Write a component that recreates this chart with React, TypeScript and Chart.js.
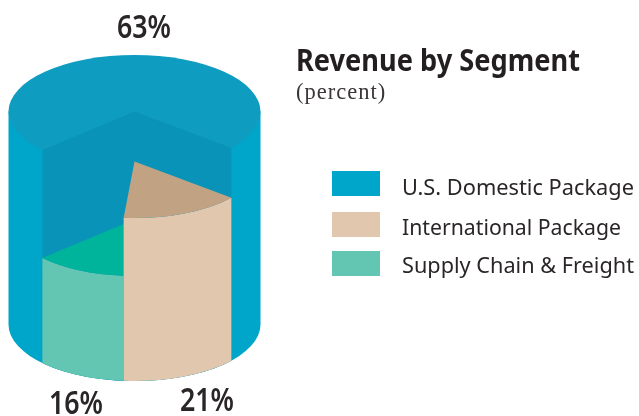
import React, { useEffect, useRef } from "react";
import { Chart, registerables } from "chart.js";

Chart.register(...registerables);

const categories = ["U.S. Domestic Package", "International Package", "Supply Chain & Freight"];
const values = [63, 21, 16];
const sideColors = ["#00A6CA", "#E1C7AE", "#63C6B3"];
const topColors = ["#0E9DC1", "#C1A383", "#00B49C"];
const innerWallColor = "#0A93B8";
const title = "Revenue by Segment";
const subtitle = "(percent)";

// drawing style of the cylinder
const TILT = 56.5 / 126;
const CYL_HEIGHT = 213;
const DROPS = [0, 50, 108];
const FRONT_SQUEEZE = 0.73;
const FRONT_MID = (88.0 * Math.PI) / 180;
const TEXT_FONT = '"Noto Sans"';
const INK = "#2a2627";

const cylinderPlugin = {
  id: "cylinder",
  beforeDatasetsDraw(chart: any) {
    const { ctx } = chart;
    const arcs = chart.getDatasetMeta(0).data;
    const cx = arcs[0].x;
    const rx = arcs[0].outerRadius;
    const ry = rx * TILT;
    const topY = arcs[0].y - CYL_HEIGHT / 2;
    const botY = arcs[0].y + CYL_HEIGHT / 2;
    const norm = (a: number) => {
      let v = a;
      while (v < -Math.PI / 2) v += Math.PI * 2;
      while (v > Math.PI * 1.5) v -= Math.PI * 2;
      return v;
    };
    const show = (a: number) => FRONT_MID + (norm(a) - FRONT_MID) * FRONT_SQUEEZE;
    const a0 = show(arcs[1].startAngle);
    const a1 = show(arcs[1].endAngle);
    const a2 = show(arcs[2].endAngle);

    ctx.save();
    // outer body
    ctx.beginPath();
    ctx.moveTo(cx - rx, topY);
    ctx.lineTo(cx - rx, botY);
    ctx.ellipse(cx, botY, rx, ry, 0, Math.PI, 0, true);
    ctx.lineTo(cx + rx, topY);
    ctx.closePath();
    ctx.fillStyle = sideColors[0];
    ctx.fill();
    // top face
    ctx.beginPath();
    ctx.ellipse(cx, topY, rx, ry, 0, 0, Math.PI * 2);
    ctx.fillStyle = topColors[0];
    ctx.fill();
    // inside walls of the cut-out
    ctx.beginPath();
    ctx.moveTo(cx, topY);
    ctx.lineTo(cx + rx * Math.cos(a0), topY + ry * Math.sin(a0));
    ctx.lineTo(cx + rx * Math.cos(a0), botY + ry * Math.sin(a0));
    ctx.ellipse(cx, botY, rx, ry, 0, a0, a2);
    ctx.lineTo(cx + rx * Math.cos(a2), topY + ry * Math.sin(a2));
    ctx.closePath();
    ctx.fillStyle = innerWallColor;
    ctx.fill();

    const slice = (i: number, s: number, e: number) => {
      const y = topY + DROPS[i];
      ctx.beginPath();
      ctx.ellipse(cx, y, rx, ry, 0, s, e);
      ctx.ellipse(cx, botY, rx, ry, 0, e, s, true);
      ctx.closePath();
      ctx.fillStyle = sideColors[i];
      ctx.fill();
      ctx.beginPath();
      ctx.moveTo(cx, y);
      ctx.ellipse(cx, y, rx, ry, 0, s, e);
      ctx.closePath();
      ctx.fillStyle = topColors[i];
      ctx.fill();
    };
    slice(2, a1, a2);
    slice(1, a0, a1);

    // value labels
    ctx.fillStyle = INK;
    ctx.textBaseline = "alphabetic";
    ctx.textAlign = "left";
    ctx.font = `600 33px ${TEXT_FONT}`;
    const spots = [
      [117, 38],
      [180, 411],
      [49, 414],
    ];
    values.forEach((v, i) => ctx.fillText(`${v}%`, spots[i][0], spots[i][1], 54));

    // heading
    ctx.font = `700 30px ${TEXT_FONT}`;
    ctx.fillStyle = "#231f20";
    ctx.fillText(title, 296, 70.5, 284);
    ctx.font = `400 22.5px "Liberation Serif"`;
    ctx.fillStyle = "#3a3637";
    ctx.letterSpacing = "1px";
    ctx.fillText(subtitle, 296, 99);
    ctx.letterSpacing = "0px";

    // legend
    const rows = [171, 212, 251];
    const baselines = [195, 234.5, 273];
    const widths = [232, 219, 232];
    ctx.font = `400 22px ${TEXT_FONT}`;
    categories.forEach((c, i) => {
      ctx.fillStyle = sideColors[i];
      ctx.fillRect(332, rows[i], 48, 25);
      ctx.fillStyle = INK;
      ctx.fillText(c, 402, baselines[i], widths[i]);
    });
    ctx.restore();
    return false;
  },
};

export default function App() {
  const ref = useRef<HTMLCanvasElement>(null);
  useEffect(() => {
    document.body.style.margin = "0";
    document.body.style.background = "#fff";
    const chart = new Chart(ref.current!, {
      type: "pie",
      data: {
        labels: categories,
        datasets: [{ data: values, backgroundColor: sideColors, borderWidth: 0 }],
      },
      options: {
        responsive: false,
        animation: false,
        rotation: 245.1,
        layout: { padding: { left: 8.5, right: 378.5, top: 92, bottom: 72 } },
        plugins: { legend: { display: false }, tooltip: { enabled: false }, title: { display: false } },
      },
      plugins: [cylinderPlugin],
    } as any);
    return () => chart.destroy();
  }, []);
  return <canvas ref={ref} width={639} height={416} style={{ display: "block", width: 639, height: 416 }} />;
}
